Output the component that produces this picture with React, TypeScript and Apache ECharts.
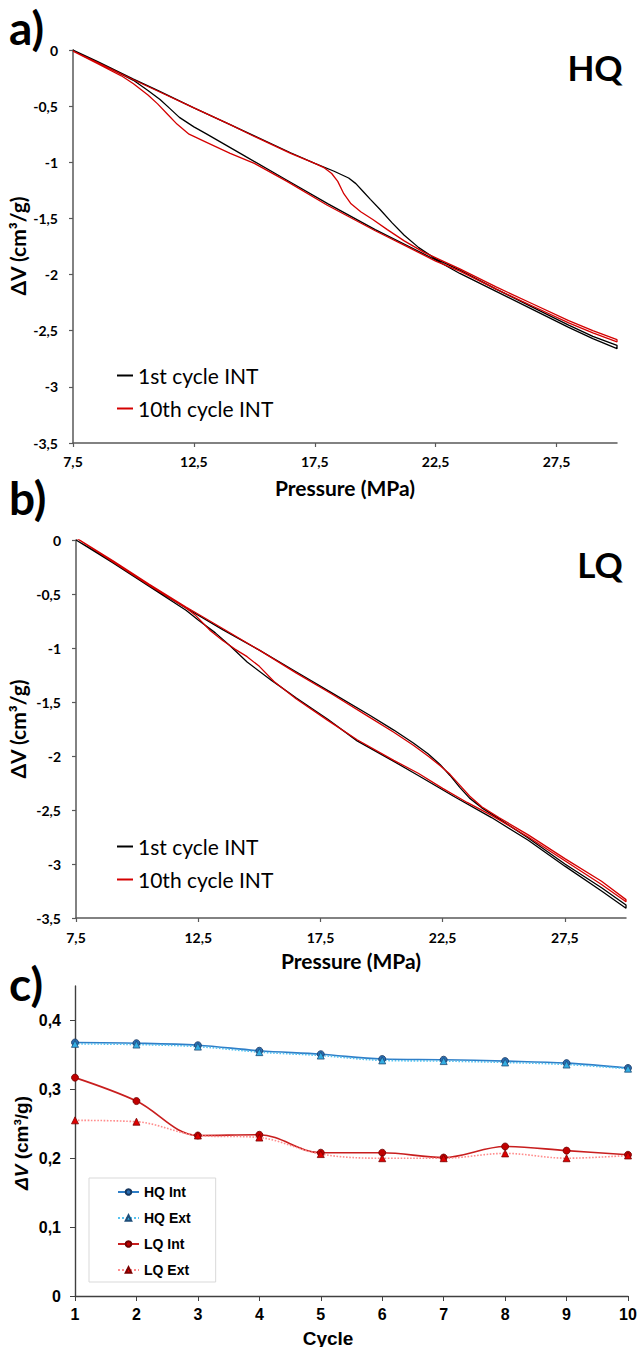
import React, { useEffect, useRef } from "react";
import * as echarts from "echarts";

// ---------- Panel a) HQ : pressure (MPa) vs ΔV (cm³/g) ----------
const hq1Up = [[7.5,0],[8.5,-0.1],[10,-0.26],[11,-0.36],[12.5,-0.515],[14,-0.665],[15,-0.765],[16.5,-0.915],[17.5,-1.01],[18.3,-1.08],[18.9,-1.14],[19.2,-1.19],[19.5,-1.26],[19.8,-1.33],[20.2,-1.42],[20.7,-1.54],[21.2,-1.65],[21.8,-1.76],[22.5,-1.86],[23.5,-1.96],[25,-2.13],[26.5,-2.29],[28,-2.45],[29,-2.55],[30,-2.63]];
const hq1Down = [[30,-2.66],[29,-2.57],[28,-2.47],[26.5,-2.31],[25,-2.15],[23.5,-1.99],[22.5,-1.87],[21.4,-1.75],[20,-1.6],[18.05,-1.37],[16.35,-1.16],[14.65,-0.95],[13,-0.745],[12.5,-0.685],[11.9,-0.6],[11.5,-0.52],[11.1,-0.44],[10.6,-0.36],[10,-0.27],[9,-0.16],[8,-0.06],[7.5,0]];
const hq10Up = [[7.5,-0.01],[8.5,-0.11],[10,-0.265],[11,-0.365],[12.5,-0.515],[14,-0.665],[15,-0.77],[16.5,-0.92],[17.5,-1.01],[17.9,-1.05],[18.2,-1.1],[18.45,-1.17],[18.7,-1.28],[19,-1.37],[19.4,-1.44],[19.9,-1.51],[20.5,-1.6],[21.2,-1.7],[22,-1.8],[22.8,-1.88],[23.5,-1.95],[25,-2.11],[26.5,-2.26],[28,-2.41],[29,-2.5],[30,-2.58]];
const hq10Down = [[30,-2.6],[29,-2.52],[28,-2.43],[26.5,-2.28],[25,-2.13],[23.5,-1.97],[22.5,-1.88],[21.4,-1.76],[20,-1.61],[18,-1.38],[16.35,-1.17],[15,-1.01],[14,-0.92],[13,-0.82],[12.3,-0.75],[11.8,-0.66],[11.4,-0.57],[11,-0.48],[10.6,-0.4],[10,-0.3],[9.5,-0.23],[8.5,-0.12],[7.5,-0.01]];

// ---------- Panel b) LQ ----------
const lq1Up = [[7.5,0],[9,-0.2],[10.5,-0.42],[12,-0.63],[13.5,-0.83],[15,-1.02],[16.5,-1.22],[18,-1.42],[19.5,-1.62],[20.5,-1.76],[21.3,-1.88],[21.9,-1.98],[22.4,-2.08],[22.8,-2.18],[23.2,-2.29],[23.6,-2.39],[24.1,-2.48],[24.8,-2.58],[26,-2.76],[27.5,-3.0],[29,-3.22],[30,-3.38]];
const lq1Down = [[30,-3.41],[29,-3.25],[27.5,-3.02],[26,-2.78],[24.5,-2.57],[23,-2.38],[21.5,-2.18],[20.5,-2.05],[19,-1.86],[17.8,-1.66],[16.5,-1.46],[15.5,-1.3],[14.5,-1.13],[13.8,-0.98],[13.2,-0.86],[12.5,-0.74],[12,-0.65],[10.5,-0.43],[9,-0.21],[7.5,0]];
const lq10Up = [[7.5,0.02],[9,-0.19],[10.5,-0.41],[12,-0.62],[13.5,-0.82],[15,-1.02],[16.5,-1.23],[18,-1.43],[19.5,-1.64],[20.5,-1.78],[21.3,-1.9],[21.9,-2.0],[22.4,-2.09],[22.8,-2.17],[23.2,-2.27],[23.6,-2.37],[24.1,-2.47],[24.8,-2.57],[26,-2.73],[27.5,-2.95],[29,-3.16],[30,-3.33]];
const lq10Down = [[30,-3.35],[29,-3.19],[27.5,-2.97],[26,-2.75],[24.5,-2.55],[23.5,-2.43],[22.5,-2.3],[21.5,-2.16],[20.5,-2.04],[19,-1.85],[17.8,-1.67],[16.5,-1.47],[15.6,-1.31],[15,-1.17],[14.5,-1.08],[14,-1.01],[13.5,-0.93],[13,-0.84],[12.4,-0.7],[12,-0.63],[10.5,-0.42],[9,-0.2],[7.5,0.02]];

// ---------- Panel c) ΔV per cycle ----------
const cycles = [1, 2, 3, 4, 5, 6, 7, 8, 9, 10];
const hqInt = [0.368, 0.367, 0.364, 0.356, 0.351, 0.344, 0.343, 0.341, 0.338, 0.331];
const hqExt = [0.366, 0.365, 0.362, 0.354, 0.349, 0.342, 0.341, 0.339, 0.336, 0.33];
const lqInt = [0.317, 0.283, 0.233, 0.234, 0.208, 0.208, 0.201, 0.217, 0.211, 0.205];
const lqExt = [0.255, 0.253, 0.233, 0.23, 0.206, 0.2, 0.2, 0.207, 0.2, 0.204];

const pressureTicks = [7.5, 12.5, 17.5, 22.5, 27.5];
const cTicksY = [0, 0.1, 0.2, 0.3, 0.4];

const comma = (v: number) => String(v).replace(".", ",");
const CAL = "Lato, 'Open Sans', sans-serif";
const ARIAL = "'Liberation Sans', Arial, sans-serif";

function pressureX(gridIndex: number, margin: number) {
  return {
    type: "value", gridIndex, min: 7.5, max: 30,
    axisLine: { onZero: false, lineStyle: { color: "#595959", width: 1.5 } },
    axisTick: { show: true, length: 4, customValues: pressureTicks, lineStyle: { color: "#595959", width: 1.2 } },
    axisLabel: { customValues: pressureTicks, formatter: comma, margin, fontFamily: CAL, fontWeight: "bold", fontSize: 14, color: "#000" },
    splitLine: { show: false },
  };
}
function volumeY(gridIndex: number) {
  return {
    type: "value", gridIndex, min: -3.5, max: 0, interval: 0.5,
    axisLine: { show: true, onZero: false, lineStyle: { color: "#595959", width: 1.5 } },
    axisTick: { show: true, length: 4, lineStyle: { color: "#595959", width: 1.2 } },
    axisLabel: { formatter: comma, margin: 15, fontFamily: CAL, fontWeight: "bold", fontSize: 14, color: "#000" },
    splitLine: { show: false },
  };
}
function loop(name: string, color: string, idx: number, data: number[][]) {
  return { name, type: "line", xAxisIndex: idx, yAxisIndex: idx, data, showSymbol: false, symbol: "none", lineStyle: { color, width: 1.3 }, itemStyle: { color }, z: name.startsWith("10") ? 3 : 2 };
}
function cycleSeries(name: string, values: number[], line: string, fill: string, border: string, symbol: string, dotted: boolean) {
  return {
    name, type: "line", xAxisIndex: 2, yAxisIndex: 2, smooth: 0.35,
    data: cycles.map((c, i) => [c, values[i]]),
    symbol, symbolSize: 7,
    lineStyle: { color: line, width: 1.6, type: dotted ? "dotted" : "solid" },
    itemStyle: { color: fill, borderColor: border, borderWidth: 0.8 },
  };
}

export default function App() {
  const ref = useRef<HTMLDivElement>(null);
  useEffect(() => {
    if (!ref.current) return;
    const chart = echarts.init(ref.current, undefined, { renderer: "svg" });
    const RED = "#D40000";
    const option: any = {
      animation: false,
      backgroundColor: "#fff",
      grid: [
        { left: 73, top: 50, width: 544, height: 393 },
        { left: 76, top: 540, width: 550, height: 378 },
        { left: 75, top: 986, width: 553, height: 310 },
      ],
      xAxis: [
        pressureX(0, 11),
        pressureX(1, 12),
        {
          type: "value", gridIndex: 2, min: 1, max: 10, interval: 1,
          axisLine: { onZero: false, lineStyle: { color: "#404040", width: 1.4 } },
          axisTick: { show: true, length: 5, lineStyle: { color: "#404040" } },
          axisLabel: { margin: 10, fontFamily: ARIAL, fontWeight: "bold", fontSize: 16, color: "#000" },
          splitLine: { show: false },
        },
      ],
      yAxis: [
        volumeY(0),
        volumeY(1),
        {
          type: "value", gridIndex: 2, min: 0, max: 0.45,
          axisLine: { show: true, onZero: false, lineStyle: { color: "#404040", width: 1.4 } },
          axisTick: { show: true, length: 5, customValues: cTicksY, lineStyle: { color: "#404040" } },
          axisLabel: { customValues: cTicksY, formatter: comma, margin: 14, fontFamily: ARIAL, fontWeight: "bold", fontSize: 16, color: "#000" },
          splitLine: { show: false },
        },
      ],
      legend: [
        {
          data: ["1st cycle INT", "10th cycle INT"], left: 117, top: 365, orient: "vertical",
          icon: "rect", itemWidth: 16, itemHeight: 2, itemGap: 12, padding: 0,
          textStyle: { fontFamily: CAL, fontSize: 21, color: "#000" },
        },
        {
          data: ["1st cycle INT", "10th cycle INT"], left: 117, top: 836, orient: "vertical",
          icon: "rect", itemWidth: 16, itemHeight: 2, itemGap: 12, padding: 0,
          textStyle: { fontFamily: CAL, fontSize: 21, color: "#000" },
        },
        {
          data: ["HQ Int", "HQ Ext", "LQ Int", "LQ Ext"], left: 89, top: 1178, orient: "vertical",
          itemWidth: 21, itemHeight: 7, itemGap: 12, padding: [7, 25, 5, 28],
          borderColor: "#d9d9d9", borderWidth: 1,
          textStyle: { fontFamily: ARIAL, fontWeight: "bold", fontSize: 14, color: "#000" },
        },
      ],
      series: [
        loop("1st cycle INT", "#000000", 0, [...hq1Up, ...hq1Down]),
        loop("10th cycle INT", RED, 0, [...hq10Up, ...hq10Down]),
        loop("1st cycle INT", "#000000", 1, [...lq1Up, ...lq1Down]),
        loop("10th cycle INT", RED, 1, [...lq10Up, ...lq10Down]),
        cycleSeries("HQ Int", hqInt, "#2F7FC8", "#2A6EB5", "#17375E", "circle", false),
        cycleSeries("HQ Ext", hqExt, "#55C2F0", "#33AEE3", "#1F4E79", "triangle", true),
        cycleSeries("LQ Int", lqInt, "#C81E1E", "#C00000", "#6E0000", "circle", false),
        cycleSeries("LQ Ext", lqExt, "#FF8C8C", "#E00000", "#7A0000", "triangle", true),
      ],
      graphic: [
        { type: "text", left: 9, top: 4, style: { text: "a)", font: `bold 46px ${CAL}`, fill: "#000" } },
        { type: "text", left: 9, top: 474, style: { text: "b)", font: `bold 46px ${CAL}`, fill: "#000" } },
        { type: "text", left: 9, top: 960, style: { text: "c)", font: `bold 46px ${CAL}`, fill: "#000" } },
        { type: "text", x: 595, y: 67, style: { text: "HQ", font: `bold 35px ${CAL}`, fill: "#000", align: "center", verticalAlign: "middle" } },
        { type: "text", x: 600, y: 564, style: { text: "LQ", font: `bold 35px ${CAL}`, fill: "#000", align: "center", verticalAlign: "middle" } },
        { type: "text", x: 345, y: 487, style: { text: "Pressure (MPa)", font: `bold 21px ${CAL}`, fill: "#000", align: "center", verticalAlign: "middle" } },
        { type: "text", x: 351, y: 960, style: { text: "Pressure (MPa)", font: `bold 21px ${CAL}`, fill: "#000", align: "center", verticalAlign: "middle" } },
        { type: "text", x: 17, y: 246, rotation: Math.PI / 2, style: { text: "ΔV (cm³/g)", font: `bold 21px ${CAL}`, fill: "#000", align: "center", verticalAlign: "middle" } },
        { type: "text", x: 17, y: 729, rotation: Math.PI / 2, style: { text: "ΔV (cm³/g)", font: `bold 21px ${CAL}`, fill: "#000", align: "center", verticalAlign: "middle" } },
        {
          type: "text", x: 21, y: 1143, rotation: Math.PI / 2,
          style: {
            text: "{i|ΔV} (cm³/g)", font: `bold 19px ${ARIAL}`, fill: "#000", align: "center", verticalAlign: "middle",
            rich: { i: { fontStyle: "italic", fontWeight: "bold", fontSize: 19, fontFamily: ARIAL } },
          },
        },
        { type: "text", x: 328, y: 1338, style: { text: "Cycle", font: `bold 19px ${ARIAL}`, fill: "#000", align: "center", verticalAlign: "middle" } },
      ],
    };
    chart.setOption(option);
    return () => chart.dispose();
  }, []);
  return <div ref={ref} style={{ position: "absolute", left: 0, top: 0, width: 640, height: 1347 }} />;
}
